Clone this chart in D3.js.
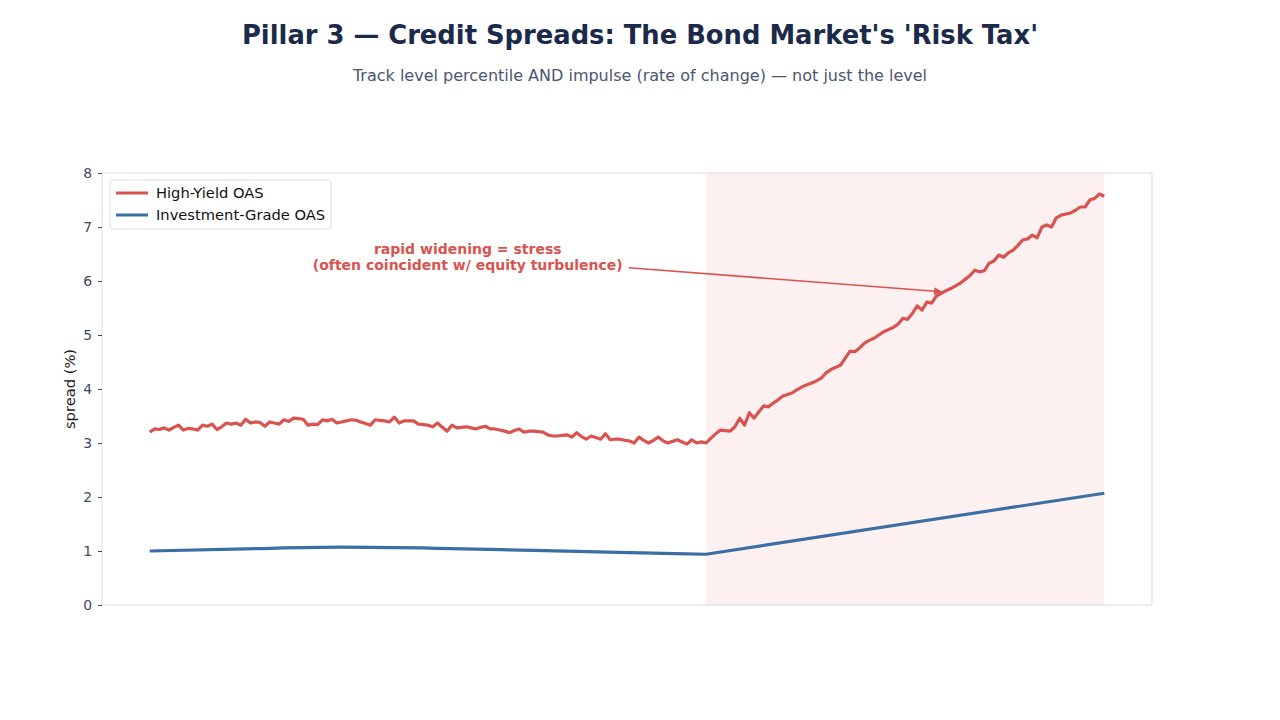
<!DOCTYPE html>
<html>
<head>
<meta charset="utf-8">
<script src="https://cdn.jsdelivr.net/npm/d3@7"></script>
<style>
  body { margin: 0; background: #fff; }
  svg { font-family: "DejaVu Sans", sans-serif; }
</style>
</head>
<body>
<svg id="chart" width="1280" height="720"></svg>
<script>
"use strict";

// high-yield OAS, one value per period
const hyOAS = [
  3.20, 3.26, 3.25, 3.28, 3.24, 3.29, 3.33, 3.24, 3.27, 3.26,
  3.24, 3.33, 3.31, 3.35, 3.25, 3.30, 3.37, 3.35, 3.37, 3.33,
  3.44, 3.37, 3.39, 3.38, 3.31, 3.39, 3.37, 3.35, 3.43, 3.40,
  3.46, 3.45, 3.44, 3.33, 3.35, 3.34, 3.43, 3.41, 3.44, 3.37,
  3.39, 3.41, 3.43, 3.42, 3.39, 3.36, 3.33, 3.43, 3.42, 3.41,
  3.39, 3.48, 3.37, 3.41, 3.41, 3.41, 3.35, 3.34, 3.33, 3.30,
  3.37, 3.29, 3.22, 3.33, 3.28, 3.29, 3.30, 3.28, 3.26, 3.29,
  3.31, 3.26, 3.26, 3.24, 3.22, 3.19, 3.23, 3.26, 3.20, 3.22,
  3.22, 3.21, 3.20, 3.15, 3.13, 3.13, 3.14, 3.15, 3.11, 3.19,
  3.12, 3.07, 3.13, 3.10, 3.07, 3.17, 3.06, 3.07, 3.07, 3.05,
  3.04, 3.00, 3.11, 3.05, 3.00, 3.05, 3.11, 3.04, 3.00, 3.03,
  3.06, 3.02, 2.98, 3.06, 3.00, 3.02, 3.00, 3.09, 3.17, 3.24,
  3.23, 3.22, 3.30, 3.46, 3.33, 3.56, 3.46, 3.58, 3.69, 3.67,
  3.74, 3.80, 3.87, 3.90, 3.93, 3.99, 4.04, 4.08, 4.11, 4.15,
  4.20, 4.30, 4.36, 4.40, 4.44, 4.57, 4.70, 4.69, 4.76, 4.85,
  4.90, 4.94, 5.00, 5.06, 5.10, 5.14, 5.20, 5.31, 5.29, 5.40,
  5.54, 5.46, 5.61, 5.59, 5.72, 5.77, 5.82, 5.86, 5.91, 5.96,
  6.03, 6.10, 6.20, 6.17, 6.19, 6.33, 6.37, 6.48, 6.44, 6.52,
  6.57, 6.66, 6.76, 6.78, 6.85, 6.80, 7.00, 7.04, 7.00, 7.17,
  7.22, 7.24, 7.26, 7.31, 7.37, 7.37, 7.50, 7.53, 7.61, 7.57
];

// investment-grade OAS, read at a few periods
// calm stretch is a gentle curve, stress stretch is a straight climb
const igCalmIndex = [0, 20, 40, 60, 80, 100, 116];
const igCalmOAS   = [1.00, 1.04, 1.07, 1.05, 1.01, 0.97, 0.94];
const igStressIndex = [116, 199];
const igStressOAS   = [0.94, 2.07];

const stressStart = 116;
const stressEnd = 199;
const yTicks = [0, 1, 2, 3, 4, 5, 6, 7, 8];

const annotation = {
  lines: ["rapid widening = stress", "(often coincident w/ equity turbulence)"],
  textAt: [66.3, 6.43],
  pointAt: [165.2, 5.8]
};

const colors = { hy: "#d9534f", ig: "#3a6ea5", span: "#fcf0f0" };

const svg = d3.select("#chart");
const margin = { left: 102, right: 128, top: 173, bottom: 115 };
const W = 1280 - margin.left - margin.right;
const H = 720 - margin.top - margin.bottom;

// titles
svg.append("text")
  .attr("x", 640).attr("y", 44)
  .attr("text-anchor", "middle")
  .attr("font-size", 25.8).attr("font-weight", "bold")
  .attr("fill", "#1b2a4a")
  .text("Pillar 3 — Credit Spreads: The Bond Market's 'Risk Tax'");
svg.append("text")
  .attr("x", 640).attr("y", 81)
  .attr("text-anchor", "middle")
  .attr("font-size", 16)
  .attr("fill", "#4a5670")
  .text("Track level percentile AND impulse (rate of change) — not just the level");

const n = hyOAS.length - 1;
const pad = n * 0.05;
const x = d3.scaleLinear().domain([-pad, n + pad]).range([0, W]);
const y = d3.scaleLinear().domain([0, 8]).range([H, 0]);

const chart = svg.append("g").attr("transform", `translate(${margin.left},${margin.top})`);

// stress span
chart.append("rect")
  .attr("x", x(stressStart)).attr("y", 0)
  .attr("width", x(stressEnd) - x(stressStart)).attr("height", H)
  .attr("fill", colors.span);

// lines
const hyLine = d3.line().x((d, i) => x(i)).y(d => y(d));
chart.append("path")
  .datum(hyOAS)
  .attr("d", hyLine)
  .attr("fill", "none").attr("stroke", colors.hy)
  .attr("stroke-width", 3.2).attr("stroke-linejoin", "round");

const igCurve = d3.line().x(d => x(d[0])).y(d => y(d[1])).curve(d3.curveMonotoneX);
const igStraight = d3.line().x(d => x(d[0])).y(d => y(d[1]));
const igPath = igCurve(igCalmIndex.map((d, i) => [d, igCalmOAS[i]])) +
  igStraight(igStressIndex.map((d, i) => [d, igStressOAS[i]])).replace(/^M/, "L");
chart.append("path")
  .attr("d", igPath)
  .attr("fill", "none").attr("stroke", colors.ig)
  .attr("stroke-width", 3.2).attr("stroke-linejoin", "round");

// frame
chart.append("rect")
  .attr("width", W).attr("height", H)
  .attr("fill", "none").attr("stroke", "#d3d9e4").attr("stroke-width", 1);

// y axis
const yAxis = chart.append("g")
  .call(d3.axisLeft(y).tickValues(yTicks).tickSize(4).tickPadding(6));
yAxis.select(".domain").remove();
yAxis.selectAll(".tick line").attr("stroke", "#3d4a66");
yAxis.selectAll(".tick text")
  .attr("font-size", 13.9).attr("fill", "#3d4a66")
  .attr("font-family", "DejaVu Sans, sans-serif");

svg.append("text")
  .attr("transform", `translate(75,${margin.top + H / 2}) rotate(-90)`)
  .attr("text-anchor", "middle")
  .attr("font-size", 14.7).attr("fill", "#222")
  .text("spread (%)");

// annotation
const defs = svg.append("defs");
defs.append("marker")
  .attr("id", "arrow").attr("viewBox", "0 0 10 10")
  .attr("refX", 10).attr("refY", 5)
  .attr("markerWidth", 10).attr("markerHeight", 8)
  .attr("markerUnits", "userSpaceOnUse")
  .attr("orient", "auto")
  .append("path").attr("d", "M0,0 L10,5 L0,10 z").attr("fill", colors.hy);

const tx = x(annotation.textAt[0]);
const ty = y(annotation.textAt[1]);
const annText = chart.append("text")
  .attr("text-anchor", "middle")
  .attr("font-size", 14).attr("font-weight", "bold")
  .attr("fill", colors.hy);
annotation.lines.forEach((s, i) => {
  annText.append("tspan").attr("x", tx).attr("y", ty - 4 + i * 16.5).text(s);
});
chart.append("line")
  .attr("x1", tx + 161).attr("y1", ty + 10)
  .attr("x2", x(annotation.pointAt[0])).attr("y2", y(annotation.pointAt[1]))
  .attr("stroke", colors.hy).attr("stroke-width", 1.6)
  .attr("marker-end", "url(#arrow)");

// legend
const legend = chart.append("g").attr("transform", "translate(8,7)");
legend.append("rect")
  .attr("width", 221).attr("height", 49).attr("rx", 3)
  .attr("fill", "#fff").attr("fill-opacity", 0.85)
  .attr("stroke", "#dcdcdc");
[["High-Yield OAS", colors.hy], ["Investment-Grade OAS", colors.ig]].forEach((d, i) => {
  const g = legend.append("g").attr("transform", `translate(6,${13 + i * 22})`);
  g.append("line").attr("x1", 0).attr("x2", 32)
    .attr("stroke", d[1]).attr("stroke-width", 3);
  g.append("text").attr("x", 40).attr("y", 5)
    .attr("font-size", 14.7).attr("fill", "#111").text(d[0]);
});
</script>
</body>
</html>
